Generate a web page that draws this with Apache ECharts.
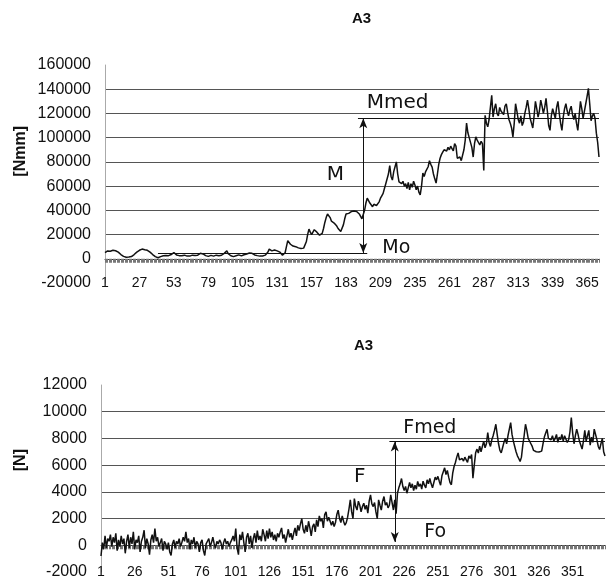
<!DOCTYPE html>
<html>
<head>
<meta charset="utf-8">
<script src="https://cdn.jsdelivr.net/npm/echarts@6/dist/echarts.min.js"></script>
<style>
  html, body { margin: 0; padding: 0; background: #fff; }
  #chart { width: 606px; height: 581px; }
</style>
</head>
<body>
<div id="chart"></div>
<script>
// torque trace [Nmm], one value per sample
const torqueValues = [
  5000, 6000, 6500, 6800, 6200, 6900, 7000, 6400, 6600, 6000,
  5500, 4500, 3500, 2800, 2000, 1600, 1200, 1000, 1400, 1100,
  1800, 2500, 3500, 4500, 5500, 6500, 7000, 7600, 8000, 7800,
  7400, 7800, 7000, 6200, 5500, 4800, 3500, 2500, 1800, 1200,
  900, 1300, 1800, 2200, 2500, 2300, 2800, 3000, 2600, 3200,
  3500, 4000, 5200, 4000, 3200, 2800, 2600, 2200, 2500, 2800,
  3000, 2600, 2200, 1800, 2200, 2600, 3000, 3200, 2800, 2500,
  3000, 3500, 4500, 6000, 4000, 3000, 2600, 2200, 2000, 2400,
  2800, 2500, 2200, 2600, 3000, 2800, 2500, 2400, 2900, 3800,
  4500, 5000, 6500, 4200, 3000, 2500, 2200, 1800, 2000, 2500,
  3000, 3200, 2800, 2400, 2700, 3300, 3800, 4000, 4300, 4800,
  5500, 4500, 3800, 3200, 2800, 2600, 2400, 2200, 2000, 2300,
  2500, 3000, 4000, 5500, 8000, 7000, 6500, 7500, 7200, 6800,
  6500, 7000, 5500, 4000, 3000, 3500, 5000, 10000, 15000, 14000,
  12000, 11500, 10500, 11000, 10000, 9500, 9000, 9200, 8500, 8000,
  8800, 10000, 14000, 20000, 24500, 22000, 20000, 21500, 24000, 23000,
  22000, 20500, 19500, 19000, 21000, 25000, 30000, 34000, 37000, 36000,
  34000, 31000, 30000, 29500, 28000, 27000, 25000, 23500, 22500, 24000,
  28000, 33000, 37000, 38500, 37500, 38000, 39000, 40000, 39500, 38000,
  39000, 38500, 37000, 35000, 33000, 34000, 40000, 46000, 50000, 48000,
  46000, 44500, 43000, 45000, 43500, 44000, 43000, 47000, 50000, 52000,
  54000, 58000, 62000, 63000, 70000, 77000, 68000, 65000, 72000, 76000,
  80000, 70000, 63500, 65000, 62000, 64000, 60000, 62000, 58000, 63000,
  57000, 62000, 59000, 64000, 61000, 57000, 60000, 55000, 52700, 60000,
  70700, 68000, 71700, 73000, 76000, 81000, 78000, 75700, 70000, 66000,
  62500, 70000, 78000, 83000, 86000, 88000, 90000, 91000, 89000, 92000,
  90000, 93000, 91000, 89000, 95000, 93000, 83000, 82000, 84000, 81000,
  81500, 90000, 98000, 112000, 104000, 100000, 99500, 92000, 84000, 95000,
  100700, 98000, 96000, 94000, 97000, 95000, 73000, 118500, 112000, 109000,
  115000, 125000, 135000, 117000, 124000, 128000, 120000, 118000, 125000, 122000,
  122600, 119000, 126000, 128000, 121000, 115000, 112000, 108000, 100700, 112000,
  128000, 122000, 115000, 112000, 118000, 110000, 113000, 120000, 125000, 131000,
  124000, 116000, 112000, 108000, 118000, 130000, 124000, 117000, 122000, 131000,
  126000, 120000, 125000, 132500, 122000, 110000, 106000, 118000, 124000, 120000,
  116000, 125000, 130000, 120000, 112000, 106000, 117000, 124000, 128000, 122000,
  118000, 123000, 126000, 119000, 115000, 120000, 112000, 106000, 118000, 130000,
  124000, 116000, 122000, 128000, 134000, 140700, 128000, 114000, 118000, 120000,
  116000, 103700, 96000, 84000
];

// force trace [N], one value per sample
const forceValues = [
  -800, 200, -300, 700, -200, 500, 300, 800, -100, 600,
  200, 900, -400, 400, -100, 700, 100, 500, -600, 300,
  800, -200, 600, 100, 1000, -300, 400, 200, 700, -500,
  300, 600, 1130, -200, 500, 100, -700, 400, 800, 200,
  1250, 300, 600, -100, 200, 500, -400, 300, 100, -300,
  200, -500, -760, 100, 400, -200, 300, 100, 500, -100,
  200, 600, 300, 1000, 200, 500, -300, 400, 100, 600,
  -200, 300, 100, -500, 200, 400, -400, -760, 100, 300,
  500, -100, 200, 600, 100, -200, 300, 100, 400, 200,
  -300, 200, 500, 100, 300, -100, 200, 400, 700, 300,
  1250, -200, -700, 800, 400, 1000, 200, -500, 600, 900,
  100, 700, -200, 500, 900, 200, 1100, 400, 700, 300,
  1200, 800, 300, 1100, 500, 1250, 600, 1000, 400, 800,
  300, 900, 600, 1000, 1300, 500, 800, 200, 700, 1200,
  600, 900, 400, 900, 1300, 700, 1500, 1100, 1600, 2000,
  1200, 900, 1500, 1000, 1800, 1300, 700, 1400, 1600, 1000,
  1900, 1400, 2200, 1800, 2000, 1300, 2300, 2500, 1800, 2100,
  2200, 1500, 1800, 1400, 1700, 2300, 2630, 2000, 1700, 2200,
  1800, 1500, 1700, 2100, 2700, 3400, 2500, 2000, 3500, 2900,
  2640, 3300, 3000, 2500, 2900, 3150, 2700, 3000, 2400, 3300,
  3775, 3100, 2900, 3200, 2500, 2000, 3400, 3000, 2640, 3300,
  3650, 3000, 3200, 2800, 3000, 3775, 3200, 2640, 3400, 2370,
  3900, 4300, 4600, 5000, 4400, 4100, 4400, 3900, 4300, 4700,
  4300, 4600, 4100, 4500, 4200, 4780, 4400, 4600, 4200, 4800,
  4500, 4300, 4900, 4600, 5000, 4600, 4300, 4700, 5100, 4900,
  5160, 4800, 4500, 5200, 5500, 5800, 5300, 5600, 5100, 4700,
  4530, 5400, 5900, 6200, 6600, 6920, 6400, 6280, 6500, 6300,
  6600, 6400, 6200, 6700, 6500, 6800, 5030, 6000, 6920, 7200,
  6900, 7420, 7000, 7400, 7800, 7300, 7600, 8430, 7700, 7400,
  7900, 8200, 8600, 9060, 8300, 7600, 7100, 6920, 7300, 7700,
  8000, 7600, 8200, 8700, 9180, 8300, 7800, 7400, 7000, 6700,
  6500, 6280, 6600, 7500, 8200, 9060, 8600, 8000, 7900, 7600,
  7400, 7100, 6980, 7000, 6950, 6980, 7100, 7050, 7600, 8100,
  8400, 8680, 8000, 8100, 7900, 8200, 7800, 8000, 8300, 7700,
  8100, 7900, 8300, 7800, 8200, 8100, 7700, 7900, 8500, 9560,
  8400, 7600, 8200, 8700, 8300, 7800, 7500, 7200, 7800, 8600,
  7800, 8200, 8600, 7500, 8100, 7700, 8700, 8300, 7900, 7400,
  7170, 7600, 8000, 7000, 6680
];

// sample numbers used as category labels
const torqueSamples = torqueValues.map((v, i) => String(i + 1));
const forceSamples = forceValues.map((v, i) => String(i + 1));

// hand-drawn annotation levels
const mmedLevel = 116000;
const moLevel = 4700;
const mArrowSample = '196';
const mmedStartSample = '192';
const moStartSample = '41';
const moEndSample = '199';

const fmedLevel = 7770;
const foLevel = 250;
const fArrowSample = '219';
const fmedStartSample = '215';

// annotation labels [sample, value, text, size]
const torqueNotes = [
  ['222', 129000, 'Mmed', 20],
  ['175', 69000, 'M', 20],
  ['221', 8500, 'Mo', 19]
];
const forceNotes = [
  ['245', 8750, 'Fmed', 19],
  ['193', 5100, 'F', 20],
  ['249', 1000, 'Fo', 19]
];

const ink = '#111';
const gridInk = '#555';
const labelFont = 'Liberation Sans, Arial, sans-serif';
const handFont = 'DejaVu Sans, sans-serif';

function notePoints(notes) {
  return notes.map(n => ({
    coord: [n[0], n[1]],
    symbolSize: 0,
    label: {
      show: true, position: 'inside', formatter: n[2],
      color: ink, fontFamily: handFont, fontSize: n[3]
    }
  }));
}

function xAxes(gridIndex, cats, step) {
  return [
    {
      gridIndex, type: 'category', data: cats, boundaryGap: false, position: 'bottom',
      axisLine: { show: false, onZero: false },
      axisTick: { show: false },
      axisLabel: { interval: step - 1, margin: -7, color: ink, fontSize: 14, fontFamily: labelFont, hideOverlap: false },
      splitLine: { show: false }
    },
    {
      gridIndex, type: 'category', data: cats, boundaryGap: false, position: 'bottom',
      axisLine: { show: true, onZero: true, lineStyle: { color: '#333', width: 1 } },
      axisTick: { show: true, interval: 0, length: 4, lineStyle: { color: '#777', width: 1 } },
      axisLabel: { show: false },
      splitLine: { show: false }
    }
  ];
}

function yAxis(gridIndex, min, max, interval) {
  return {
    gridIndex, type: 'value', min, max, interval,
    axisLine: { show: true, lineStyle: { color: '#aaa', width: 1 } },
    axisTick: { show: false },
    axisLabel: { margin: 14, color: ink, fontSize: 16, fontFamily: labelFont, formatter: v => String(v) },
    splitLine: { show: true, showMinLine: false, showMaxLine: false, lineStyle: { color: gridInk, width: 1 } }
  };
}

const chart = echarts.init(document.getElementById('chart'), null, { renderer: 'canvas' });

const option = {
  animation: false,
  backgroundColor: '#fff',
  title: [
    { text: 'A3', left: 347, top: 6, textStyle: { fontSize: 15, fontWeight: 'bold', color: ink, fontFamily: labelFont } },
    { text: 'A3', left: 349, top: 333, textStyle: { fontSize: 15, fontWeight: 'bold', color: ink, fontFamily: labelFont } }
  ],
  grid: [
    { left: 105, right: 7, top: 65, bottom: 298 },
    { left: 101, right: 1, top: 385, bottom: 9 }
  ],
  xAxis: [...xAxes(0, torqueSamples, 26), ...xAxes(1, forceSamples, 25)],
  yAxis: [yAxis(0, -20000, 160000, 20000), yAxis(1, -2000, 12000, 2000)],
  graphic: [
    { type: 'text', left: 13, top: 126, rotation: Math.PI / 2,
      style: { text: '[Nmm]', fill: ink, font: 'bold 16px Liberation Sans, Arial, sans-serif' } },
    { type: 'text', left: 13, top: 449, rotation: Math.PI / 2,
      style: { text: '[N]', fill: ink, font: 'bold 16px Liberation Sans, Arial, sans-serif' } }
  ],
  series: [
    {
      type: 'line', xAxisIndex: 0, yAxisIndex: 0, data: torqueValues,
      symbol: 'none', lineStyle: { color: ink, width: 1.5 }, silent: true,
      markLine: {
        silent: true, animation: false,
        lineStyle: { color: ink, width: 1, type: 'solid' },
        label: { show: false },
        data: [
          [{ coord: [mmedStartSample, mmedLevel], symbol: 'none' }, { coord: [torqueSamples[torqueSamples.length - 1], mmedLevel], symbol: 'none' }],
          [{ coord: [moStartSample, moLevel], symbol: 'none' }, { coord: [moEndSample, moLevel], symbol: 'none' }],
          [{ coord: [mArrowSample, mmedLevel], symbol: 'arrow', symbolSize: [6, 10] }, { coord: [mArrowSample, moLevel], symbol: 'arrow', symbolSize: [6, 10] }]
        ]
      },
      markPoint: { silent: true, symbol: 'circle', data: notePoints(torqueNotes) }
    },
    {
      type: 'line', xAxisIndex: 2, yAxisIndex: 1, data: forceValues,
      symbol: 'none', lineStyle: { color: ink, width: 1.5 }, silent: true,
      markLine: {
        silent: true, animation: false,
        lineStyle: { color: ink, width: 1, type: 'solid' },
        label: { show: false },
        data: [
          [{ coord: [fmedStartSample, fmedLevel], symbol: 'none' }, { coord: [forceSamples[forceSamples.length - 1], fmedLevel], symbol: 'none' }],
          [{ coord: [fArrowSample, fmedLevel], symbol: 'arrow', symbolSize: [6, 10] }, { coord: [fArrowSample, foLevel], symbol: 'arrow', symbolSize: [6, 10] }]
        ]
      },
      markPoint: { silent: true, symbol: 'circle', data: notePoints(forceNotes) }
    }
  ]
};

chart.setOption(option);
</script>
</body>
</html>
